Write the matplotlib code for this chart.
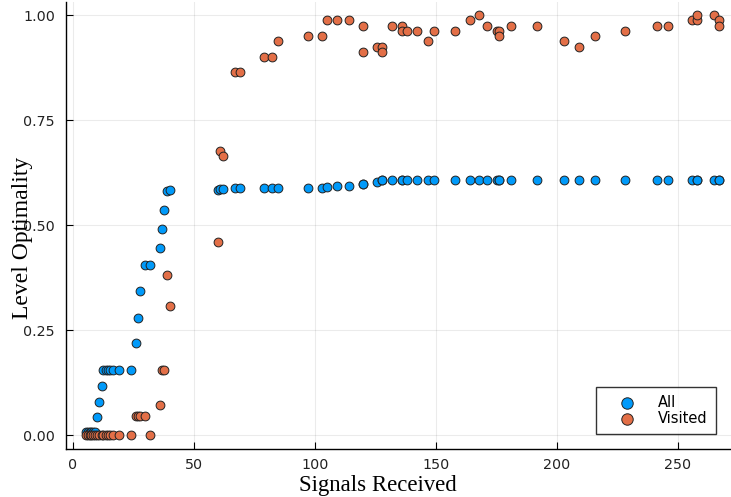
import matplotlib
matplotlib.use("Agg")
import matplotlib.pyplot as plt
import numpy as np

# Data
signals = [5.6, 6.3, 7.0, 7.7, 8.4, 9.2, 10.0, 10.9, 12.0, 12.7, 13.7, 14.6, 15.5, 16.8,
           19.1, 24.1, 26.2, 27.0, 27.9, 29.9, 31.9, 36.1, 37.0, 37.9, 39.0, 40.1,
           60.2, 60.9, 61.9, 67.1, 69.1, 79.0, 82.2, 85.0, 97.1, 103.1, 105.1, 109.1,
           114.2, 120.0, 120.0, 125.9, 127.9, 127.9, 132.1, 136.1, 136.1, 138.0,
           142.1, 146.9, 149.3, 158.1, 164.0, 168.0, 171.1, 175.2, 176.3, 176.3,
           181.0, 192.0, 203.1, 209.2, 216.0, 228.1, 241.3, 246.1, 256.0, 258.1,
           258.1, 265.1, 267.2, 267.2]
all_opt = [0.006, 0.006, 0.006, 0.006, 0.006, 0.006, 0.043, 0.079, 0.117, 0.155, 0.155,
           0.155, 0.155, 0.155, 0.155, 0.155, 0.218, 0.279, 0.342, 0.405, 0.405, 0.446,
           0.490, 0.536, 0.582, 0.584, 0.583, 0.585, 0.586, 0.587, 0.588, 0.588, 0.588,
           0.588, 0.588, 0.588, 0.590, 0.593, 0.594, 0.598, 0.598, 0.602, 0.606, 0.606,
           0.607, 0.607, 0.607, 0.607, 0.607, 0.607, 0.607, 0.607, 0.607, 0.607, 0.607,
           0.607, 0.607, 0.607, 0.607, 0.607, 0.607, 0.607, 0.607, 0.607, 0.607, 0.607,
           0.607, 0.607, 0.607, 0.607, 0.607, 0.607]
visited_opt = [0, 0, 0, 0, 0, 0, 0, 0, 0, 0, 0, 0, 0, 0, 0, 0, 0.046, 0.046, 0.046, 0.046,
               0, 0.071, 0.155, 0.155, 0.381, 0.306, 0.460, 0.676, 0.664, 0.864, 0.864,
               0.899, 0.899, 0.937, 0.950, 0.950, 0.987, 0.987, 0.987, 0.975, 0.912,
               0.925, 0.925, 0.912, 0.975, 0.975, 0.963, 0.963, 0.963, 0.937, 0.963,
               0.963, 0.987, 1.0, 0.975, 0.963, 0.963, 0.950, 0.975, 0.975, 0.937, 0.925,
               0.950, 0.963, 0.975, 0.975, 0.987, 0.987, 1.0, 1.0, 0.987, 0.975]
series_names = ["All", "Visited"]
x_ticks = [0, 50, 100, 150, 200, 250]
y_ticks = [0.00, 0.25, 0.50, 0.75, 1.00]
y_tick_labels = ["0.00", "0.25", "0.50", "0.75", "1.00"]

W, H = 731, 497
fig = plt.figure(figsize=(W / 100, H / 100), dpi=100)
ax = fig.add_axes([66 / W, 48 / H, (W - 66) / W, (449 - 2.4) / H])

colors = ["#009AFA", "#E36F47"]
for vals, name, c in zip([all_opt, visited_opt], series_names, colors):
    ax.scatter(signals, vals, s=40, color=c, edgecolors="#222222", linewidths=0.7,
               label=name, zorder=3)

ax.set_xlim(-2.77, 272.0)
ax.set_ylim(-0.0333, 1.030)
ax.set_xticks(x_ticks)
ax.set_yticks(y_ticks)
ax.set_yticklabels(y_tick_labels)
ax.tick_params(direction="in", length=5, width=0.8, labelsize=10.3, colors="black",
               labelcolor="#222222")
ax.tick_params(axis="y", pad=8)
ax.tick_params(axis="x", pad=6.5)
ax.grid(True, color="black", alpha=0.08, linewidth=0.8)
ax.set_axisbelow(True)
for side in ["top", "right"]:
    ax.spines[side].set_visible(False)
for side in ["left", "bottom"]:
    ax.spines[side].set_linewidth(1.0)

fig.text(378 / W, 1 - 486 / H, "Signals Received", family="Liberation Serif",
         fontsize=16.4, ha="center", va="center")
fig.text(23 / W, 1 - 238 / H, "Level Optimality", family="Liberation Serif",
         fontsize=17, ha="center", va="center", rotation=90)

leg = ax.legend(loc="lower right", bbox_to_anchor=((716 - 66) / (W - 66), (449 - 434) / (449 - 2.4)),
                fontsize=10.5, frameon=True, fancybox=False, edgecolor="black",
                markerscale=1.3, handlelength=3.1, handletextpad=0.6, labelspacing=0.05,
                borderpad=0.55, borderaxespad=0.0)
leg.get_frame().set_linewidth(1.0)

fig.savefig("out.png", dpi=100)
